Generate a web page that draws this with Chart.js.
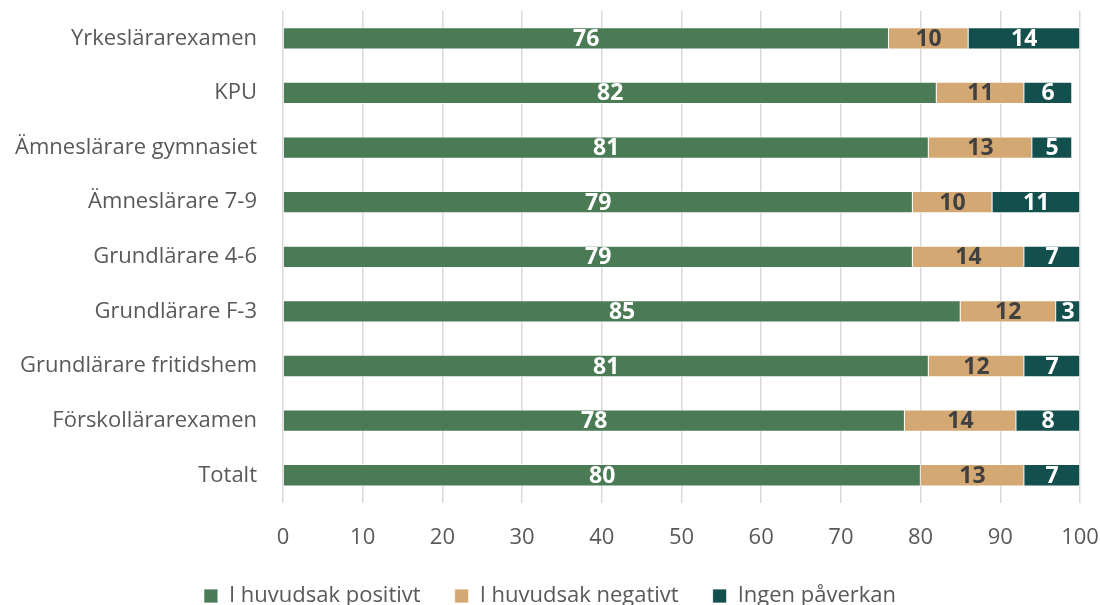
<!DOCTYPE html>
<html>
<head>
<meta charset="utf-8">
<script src="https://cdn.jsdelivr.net/npm/chart.js@4.4.1/dist/chart.umd.min.js"></script>
<style>
  html, body { margin: 0; padding: 0; background: #fff; }
  #wrap { width: 1100px; height: 605px; }
</style>
</head>
<body>
<div id="wrap"><canvas id="myChart" width="1100" height="605"></canvas></div>
<script>
var categories = ['Yrkeslärarexamen', 'KPU', 'Ämneslärare gymnasiet', 'Ämneslärare 7-9', 'Grundlärare 4-6', 'Grundlärare F-3', 'Grundlärare fritidshem', 'Förskollärarexamen', 'Totalt'];
var positivt = [76, 82, 81, 79, 79, 85, 81, 78, 80];
var negativt = [10, 11, 13, 10, 14, 12, 12, 14, 13];
var ingen = [14, 6, 5, 11, 7, 3, 7, 8, 7];
var xTicks = [0, 10, 20, 30, 40, 50, 60, 70, 80, 90, 100];

var font = '"Open Sans", "Noto Sans", sans-serif';

// draws the numbers in the middle of each segment
var barLabels = {
    id: 'barLabels',
    afterDatasetsDraw: function (chart) {
        var c = chart.ctx;
        c.save();
        c.font = 'bold 23px ' + font;
        c.textAlign = 'center';
        c.textBaseline = 'middle';
        chart.data.datasets.forEach(function (ds, i) {
            var meta = chart.getDatasetMeta(i);
            meta.data.forEach(function (bar, j) {
                c.fillStyle = ds.labelColor;
                c.fillText(ds.data[j], (bar.x + bar.base) / 2, bar.y + 1);
            });
        });
        c.restore();
    }
};

var ctx = document.getElementById('myChart');
var myChart = new Chart(ctx, {
    type: 'bar',
    data: {
        labels: categories,
        datasets: [{
            label: 'I huvudsak positivt',
            data: positivt,
            backgroundColor: '#4a7b55',
            labelColor: '#ffffff',
            borderColor: '#ffffff',
            borderWidth: 0.75
        }, {
            label: 'I huvudsak negativt',
            data: negativt,
            backgroundColor: '#d4a872',
            labelColor: '#404040',
            borderColor: '#ffffff',
            borderWidth: 0.75
        }, {
            label: 'Ingen påverkan',
            data: ingen,
            backgroundColor: '#134f4d',
            labelColor: '#ffffff',
            borderColor: '#ffffff',
            borderWidth: 0.75
        }]
    },
    plugins: [barLabels],
    options: {
        indexAxis: 'y',
        responsive: false,
        animation: false,
        datasets: {
            bar: {
                barPercentage: 0.8,
                categoryPercentage: 0.5
            }
        },
        layout: {
            padding: { left: 0, right: 0, top: 11, bottom: -12 }
        },
        plugins: {
            legend: {
                position: 'bottom',
                labels: {
                    boxWidth: 14,
                    boxHeight: 14,
                    padding: 12,
                    color: '#595959',
                    font: { family: font, size: 22 },
                    // trailing space so the items sit further apart
                    generateLabels: function (chart) {
                        var items = Chart.defaults.plugins.legend.labels.generateLabels(chart);
                        items.forEach(function (it, i) {
                            if (i < items.length - 1) it.text = it.text + '\u2003';
                        });
                        return items;
                    }
                }
            },
            tooltip: { enabled: false }
        },
        scales: {
            x: {
                stacked: true,
                min: 0,
                max: 100,
                afterBuildTicks: function (axis) {
                    axis.ticks = xTicks.map(function (v) { return { value: v }; });
                },
                afterFit: function (axis) {
                    axis.paddingLeft = 0;
                    axis.paddingRight = 20;
                },
                grid: {
                    color: '#d9d9d9',
                    lineWidth: 1.5,
                    drawTicks: false
                },
                border: { display: false },
                ticks: {
                    padding: 22,
                    color: '#595959',
                    font: { family: font, size: 22 }
                }
            },
            y: {
                stacked: true,
                afterFit: function (axis) {
                    axis.width = 283;
                    axis.paddingTop = 0;
                    axis.paddingBottom = 0;
                },
                grid: { display: false, drawTicks: false },
                border: { display: false },
                ticks: {
                    padding: 26,
                    color: '#595959',
                    font: { family: font, size: 22 }
                }
            }
        }
    }
});
</script>
</body>
</html>
